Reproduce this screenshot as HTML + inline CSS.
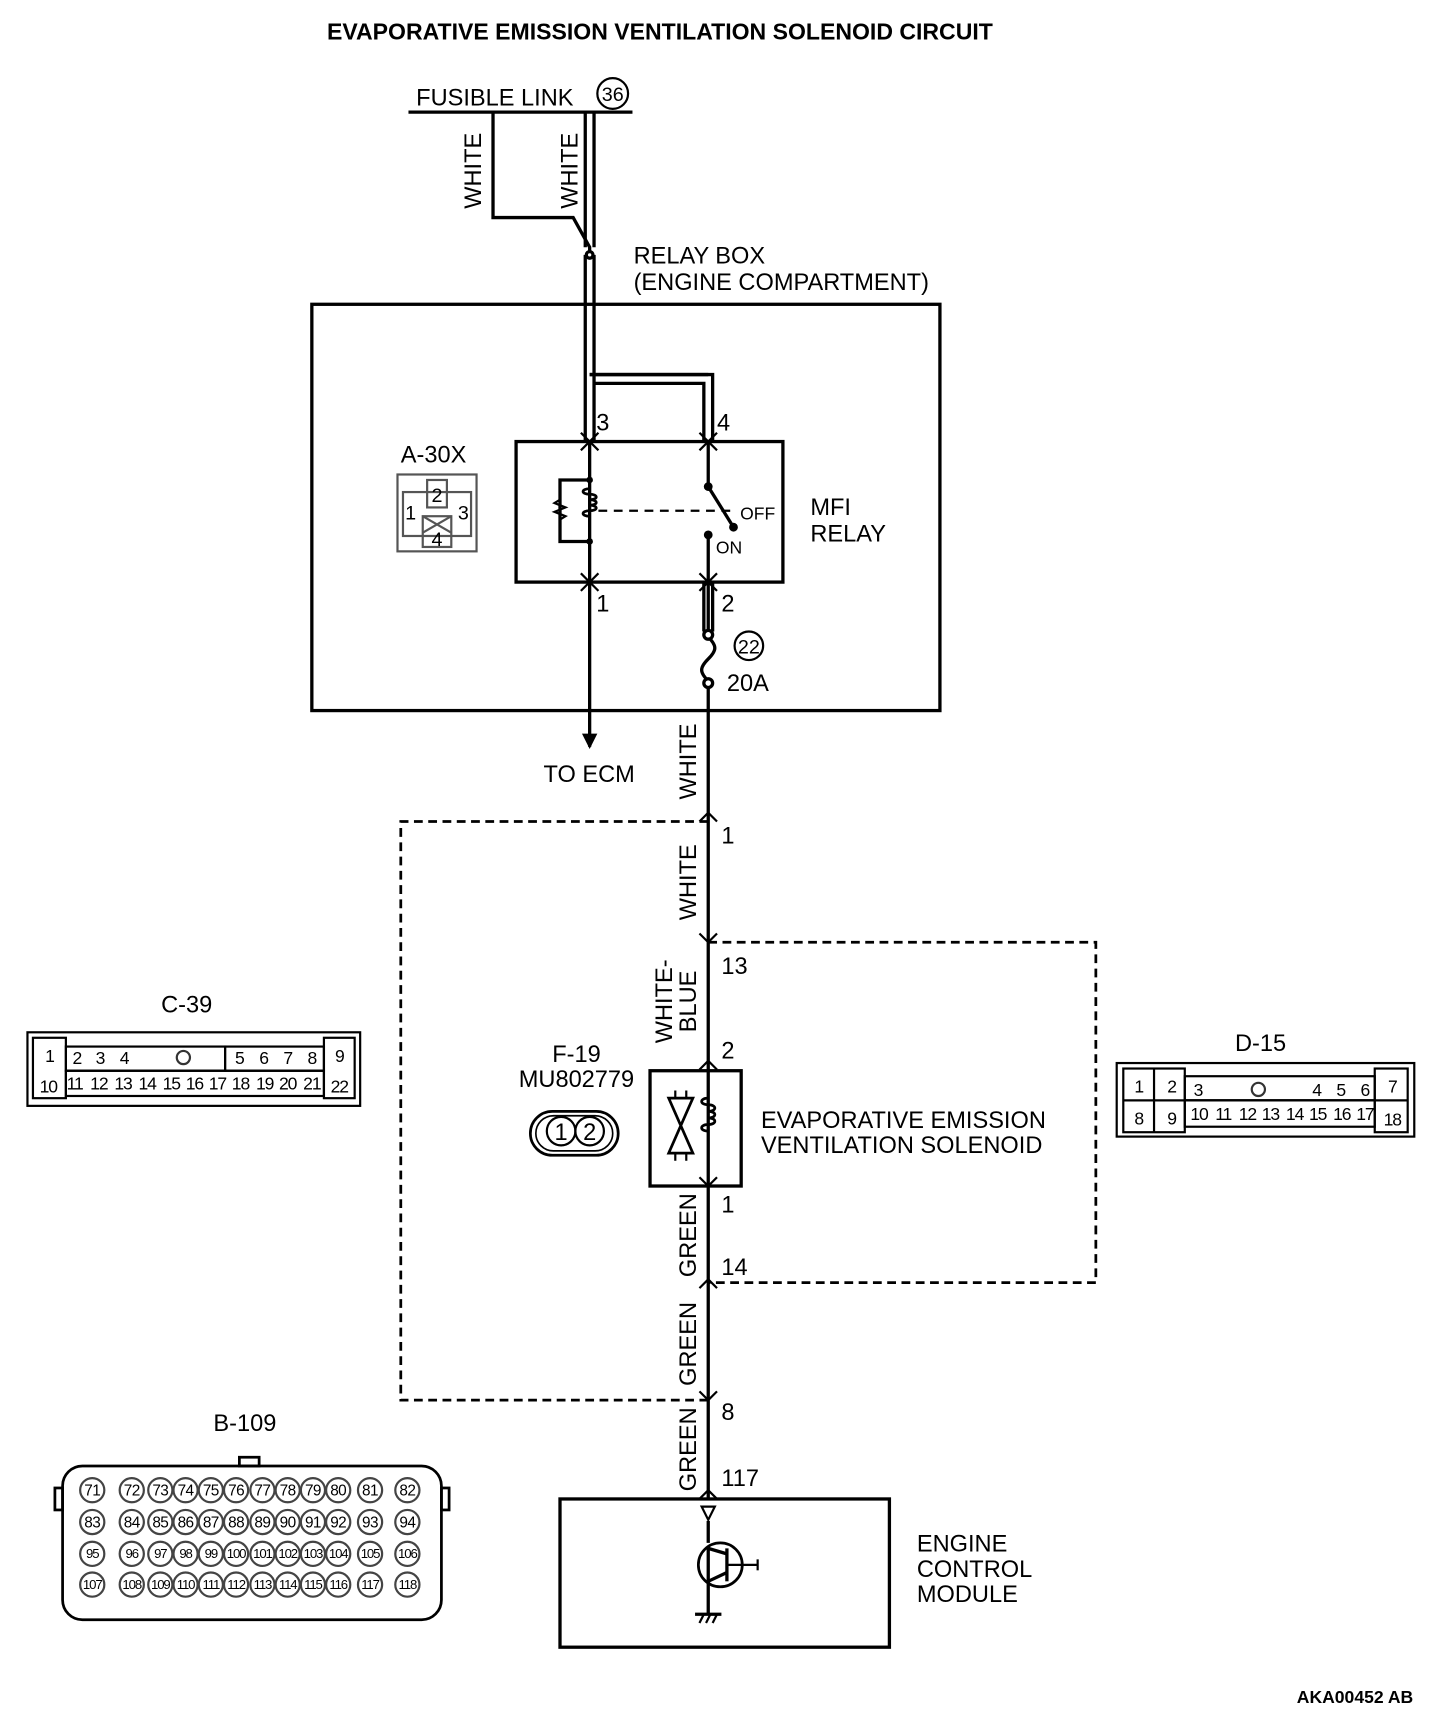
<!DOCTYPE html>
<html><head><meta charset="utf-8"><style>
html,body{margin:0;padding:0;background:#fff;}
svg{display:block;}
text{font-family:"Liberation Sans",sans-serif;fill:#000;}
</style></head><body>
<svg width="1456" height="1722" viewBox="0 0 1326 1568" xmlns="http://www.w3.org/2000/svg">
<g fill="none" stroke="#000" stroke-width="3">
<line x1="372" y1="102" x2="576" y2="102"/>
<polyline points="449,102 449,198 522,198 537,225 537,232"/>
<line x1="533" y1="102" x2="533" y2="225"/><line x1="541" y1="102" x2="541" y2="225"/>
<circle cx="558" cy="85" r="14" stroke-width="2"/>
<rect x="284" y="277" width="572" height="370"/>
<line x1="533" y1="232" x2="533" y2="402"/><line x1="541" y1="232" x2="541" y2="402"/>
<polyline points="537,341 645,341"/><polyline points="541,349 641,349 641,402"/><polyline points="537,341 649,341 649,402"/>
<circle cx="537" cy="232" r="3" fill="#fff"/>
<rect x="470" y="402" width="243" height="128"/>
<line x1="537" y1="402" x2="537" y2="680"/>
<polyline points="537,437 510,437 510,493 537,493"/>
<path d="M537,445 c-8,0 -8,5 0,5 c8,0 8,5 0,5 c8,0 8,5 0,5 c8,0 8,5 0,5 c-8,0 -8,5 0,5" stroke-width="2.5"/>
<polyline points="510,455 505,458 515,462 505,466 515,470 510,473" stroke-width="2"/>
<line x1="545" y1="465" x2="665" y2="465" stroke-dasharray="8,6" stroke-width="2"/>
<line x1="645" y1="402" x2="645" y2="443"/>
<line x1="645" y1="443" x2="668" y2="480"/>
<line x1="645" y1="487" x2="645" y2="575"/>
<line x1="641" y1="530" x2="641" y2="575"/><line x1="649" y1="530" x2="649" y2="575"/>
<path d="M645,580 c8,8 8,12 0,20 c-8,8 -8,12 0,20" />
<line x1="645" y1="625" x2="645" y2="1365"/>
<circle cx="645" cy="578" r="4" fill="#fff"/><circle cx="645" cy="622" r="4" fill="#fff"/>
<circle cx="682" cy="588" r="13" stroke-width="2"/>
<g stroke-width="2">
<polyline points="529,410 537,402 545,410"/><polyline points="637,410 645,402 653,410"/>
<polyline points="529,394 537,402 545,394"/><polyline points="637,394 645,402 653,394"/>
<polyline points="529,538 537,530 545,538"/><polyline points="637,538 645,530 653,538"/>
<polyline points="529,522 537,530 545,522"/><polyline points="637,522 645,530 653,522"/>
<polyline points="637,748 645,740 653,748"/>
<polyline points="637,850 645,858 653,850"/>
<polyline points="637,974 645,966 653,974"/>
<polyline points="637,1072 645,1080 653,1072"/>
<polyline points="637,1173 645,1165 653,1173"/>
<polyline points="637,1267 645,1275 653,1267"/>
<polyline points="637,1365 645,1357 653,1365"/>
</g>
<polyline points="645,748 365,748 365,1275 645,1275" stroke-dasharray="8,5" stroke-width="2.5"/>
<polyline points="645,858 998,858 998,1168 645,1168" stroke-dasharray="8,5" stroke-width="2.5"/>
<rect x="592" y="975" width="83" height="105"/>
<path d="M645,1000 c-8,0 -8,6 0,6 c8,0 8,6 0,6 c8,0 8,6 0,6 c8,0 8,6 0,6 c-8,0 -8,6 0,6" stroke-width="2.5"/>
<path d="M609,1000 L631,1000 L609,1050 L631,1050 Z" stroke-width="2.5"/>
<line x1="615" y1="993" x2="615" y2="1000" stroke-width="2"/><line x1="625" y1="993" x2="625" y2="1000" stroke-width="2"/>
<line x1="615" y1="1050" x2="615" y2="1057" stroke-width="2"/><line x1="625" y1="1050" x2="625" y2="1057" stroke-width="2"/>
<rect x="483" y="1012" width="80" height="40" rx="20" stroke-width="2.5"/>
<rect x="488" y="1016" width="70" height="32" rx="16" stroke-width="1.5"/>
<circle cx="511" cy="1030" r="13" stroke-width="2"/><circle cx="537" cy="1030" r="13" stroke-width="2"/>
<rect x="510" y="1365" width="300" height="135"/>
<line x1="645" y1="1385" x2="645" y2="1405"/>
<circle cx="656" cy="1425" r="20" stroke-width="2.5"/>
<line x1="645" y1="1408" x2="645" y2="1470"/>
<line x1="645" y1="1410" x2="662" y2="1415"/><line x1="662" y1="1410" x2="662" y2="1440"/>
<line x1="645" y1="1440" x2="662" y2="1432"/><line x1="662" y1="1425" x2="690" y2="1425" stroke-width="2"/>
<line x1="690" y1="1420" x2="690" y2="1430" stroke-width="2"/>
<line x1="633" y1="1470" x2="657" y2="1470"/>
<g stroke-width="2"><line x1="637" y1="1478" x2="641" y2="1470"/><line x1="643" y1="1478" x2="647" y2="1470"/><line x1="649" y1="1478" x2="653" y2="1470"/></g>
<g stroke-width="2">
<rect x="25" y="940" width="303" height="67"/>
<rect x="30" y="945" width="30" height="55"/><rect x="295" y="945" width="28" height="55"/>
<line x1="60" y1="975" x2="295" y2="975"/>
<rect x="60" y="953" width="145" height="22"/><rect x="205" y="953" width="90" height="22"/>
<rect x="60" y="975" width="235" height="23"/>
</g>
<g stroke-width="2">
<rect x="1017" y="968" width="271" height="67"/>
<rect x="1023" y="973" width="56" height="58"/><rect x="1252" y="973" width="30" height="58"/>
<line x1="1023" y1="1002" x2="1282" y2="1002"/><line x1="1051" y1="973" x2="1051" y2="1031"/>
<rect x="1079" y="980" width="173" height="22"/><rect x="1079" y="1002" width="173" height="24"/>
</g>
<g stroke-width="2.5">
<rect x="57" y="1335" width="345" height="140" rx="18"/>
<rect x="218" y="1327" width="18" height="8"/>
<rect x="50" y="1355" width="7" height="20"/><rect x="402" y="1355" width="7" height="20"/>
</g>
</g>
<g fill="#000">
<circle cx="537" cy="437" r="3"/><circle cx="537" cy="493" r="3"/>
<circle cx="645" cy="443" r="4"/><circle cx="668" cy="480" r="4"/><circle cx="645" cy="487" r="4"/>
<polygon points="530,668 544,668 537,682"/>
<polygon points="639,1372 651,1372 645,1384" fill="none" stroke="#000" stroke-width="2"/>
</g>
<g font-size="21.5">
<text x="601" y="36" text-anchor="middle" font-size="21" font-weight="bold" fill="#333">EVAPORATIVE EMISSION VENTILATION SOLENOID CIRCUIT</text>
<text x="379" y="96">FUSIBLE LINK</text>
<text x="558" y="92" text-anchor="middle" font-size="18">36</text>
<text x="577" y="240">RELAY BOX</text>
<text x="577" y="264">(ENGINE COMPARTMENT)</text>
<text x="365" y="421">A-30X</text>
<text x="543" y="392">3</text><text x="653" y="392">4</text>
<text x="543" y="557">1</text><text x="657" y="557">2</text>
<text x="682" y="595" text-anchor="middle" font-size="18">22</text>
<text x="662" y="629">20A</text>
<text x="674" y="473" font-size="16">OFF</text><text x="652" y="504" font-size="16">ON</text>
<text x="738" y="469">MFI</text><text x="738" y="493">RELAY</text>
<text x="495" y="712">TO ECM</text>
<text x="657" y="768">1</text><text x="657" y="887">13</text><text x="657" y="964">2</text>
<text x="657" y="1104">1</text><text x="657" y="1161">14</text><text x="657" y="1293">8</text><text x="657" y="1353">117</text>
<text x="525" y="967" text-anchor="middle">F-19</text>
<text x="525" y="990" text-anchor="middle">MU802779</text>
<text x="511" y="1038" text-anchor="middle">1</text><text x="537" y="1038" text-anchor="middle">2</text>
<text x="693" y="1027">EVAPORATIVE EMISSION</text>
<text x="693" y="1050">VENTILATION SOLENOID</text>
<text x="835" y="1413">ENGINE</text><text x="835" y="1436">CONTROL</text><text x="835" y="1459">MODULE</text>
<text x="170" y="922" text-anchor="middle">C-39</text>
<text x="1148" y="957" text-anchor="middle">D-15</text>
<text x="223" y="1303" text-anchor="middle">B-109</text>
<text x="1287" y="1551" text-anchor="end" font-size="16" font-weight="bold">AKA00452 AB</text>
<g transform="translate(438,190) rotate(-90)"><text>WHITE</text></g>
<g transform="translate(526,190) rotate(-90)"><text>WHITE</text></g>
<g transform="translate(634,728) rotate(-90)"><text>WHITE</text></g>
<g transform="translate(634,838) rotate(-90)"><text>WHITE</text></g>
<g transform="translate(612,950) rotate(-90)"><text>WHITE-</text></g>
<g transform="translate(634,940) rotate(-90)"><text>BLUE</text></g>
<g transform="translate(634,1163) rotate(-90)"><text>GREEN</text></g>
<g transform="translate(634,1262) rotate(-90)"><text>GREEN</text></g>
<g transform="translate(634,1358) rotate(-90)"><text>GREEN</text></g>
</g>
<g fill="none" stroke="#555" stroke-width="2">
<rect x="362" y="432" width="72" height="70"/>
<rect x="367" y="448" width="62" height="40"/>
<rect x="389" y="437" width="18" height="25"/>
<rect x="385" y="470" width="26" height="28"/>
<line x1="385" y1="470" x2="411" y2="485"/><line x1="411" y1="470" x2="385" y2="485"/>
</g>
<g font-size="18" fill="#333">
<text x="398" y="457" text-anchor="middle">2</text><text x="374" y="473" text-anchor="middle">1</text>
<text x="422" y="473" text-anchor="middle">3</text><text x="398" y="497" text-anchor="middle">4</text>
</g>
<g font-size="16" text-anchor="middle" fill="#333" letter-spacing="-1">
<text x="45" y="967">1</text><text x="70" y="969">2</text><text x="91" y="969">3</text><text x="113" y="969">4</text>
<text x="218" y="969">5</text><text x="240" y="969">6</text><text x="262" y="969">7</text><text x="284" y="969">8</text><text x="309" y="967">9</text>
<text x="44" y="995">10</text><text x="68" y="992">11</text><text x="90" y="992">12</text><text x="112" y="992">13</text><text x="134" y="992">14</text>
<text x="156" y="992">15</text><text x="177" y="992">16</text><text x="198" y="992">17</text><text x="219" y="992">18</text><text x="241" y="992">19</text>
<text x="262" y="992">20</text><text x="284" y="992">21</text><text x="309" y="995">22</text>
<text x="1037" y="995">1</text><text x="1067" y="995">2</text><text x="1091" y="998">3</text>
<text x="1199" y="998">4</text><text x="1221" y="998">5</text><text x="1243" y="998">6</text><text x="1268" y="995">7</text>
<text x="1037" y="1024">8</text><text x="1067" y="1024">9</text>
<text x="1092" y="1020">10</text><text x="1114" y="1020">11</text><text x="1136" y="1020">12</text><text x="1157" y="1020">13</text>
<text x="1179" y="1020">14</text><text x="1200" y="1020">15</text><text x="1222" y="1020">16</text><text x="1243" y="1020">17</text><text x="1268" y="1025">18</text>
</g>
<circle cx="167" cy="963" r="6" fill="none" stroke="#333" stroke-width="2"/>
<circle cx="1146" cy="992" r="6" fill="none" stroke="#333" stroke-width="2"/>
<g fill="none" stroke="#444" stroke-width="2">
<g id="r"><circle cx="84" cy="1357" r="11"/><circle cx="120" cy="1357" r="11"/><circle cx="146" cy="1357" r="11"/><circle cx="169" cy="1357" r="11"/><circle cx="192" cy="1357" r="11"/><circle cx="215" cy="1357" r="11"/><circle cx="239" cy="1357" r="11"/><circle cx="262" cy="1357" r="11"/><circle cx="285" cy="1357" r="11"/><circle cx="308" cy="1357" r="11"/><circle cx="337" cy="1357" r="11"/><circle cx="371" cy="1357" r="11"/></g>
<use href="#r" y="29"/><use href="#r" y="58"/><use href="#r" y="86"/>
</g>
<g font-size="14" text-anchor="middle" fill="#333" letter-spacing="-0.5">
<text x="84" y="1362">71</text><text x="120" y="1362">72</text><text x="146" y="1362">73</text><text x="169" y="1362">74</text><text x="192" y="1362">75</text><text x="215" y="1362">76</text><text x="239" y="1362">77</text><text x="262" y="1362">78</text><text x="285" y="1362">79</text><text x="308" y="1362">80</text><text x="337" y="1362">81</text><text x="371" y="1362">82</text>
<text x="84" y="1391">83</text><text x="120" y="1391">84</text><text x="146" y="1391">85</text><text x="169" y="1391">86</text><text x="192" y="1391">87</text><text x="215" y="1391">88</text><text x="239" y="1391">89</text><text x="262" y="1391">90</text><text x="285" y="1391">91</text><text x="308" y="1391">92</text><text x="337" y="1391">93</text><text x="371" y="1391">94</text>
<g font-size="12" letter-spacing="-1">
<text x="84" y="1419">95</text><text x="120" y="1419">96</text><text x="146" y="1419">97</text><text x="169" y="1419">98</text><text x="192" y="1419">99</text><text x="215" y="1419">100</text><text x="239" y="1419">101</text><text x="262" y="1419">102</text><text x="285" y="1419">103</text><text x="308" y="1419">104</text><text x="337" y="1419">105</text><text x="371" y="1419">106</text>
<text x="84" y="1447">107</text><text x="120" y="1447">108</text><text x="146" y="1447">109</text><text x="169" y="1447">110</text><text x="192" y="1447">111</text><text x="215" y="1447">112</text><text x="239" y="1447">113</text><text x="262" y="1447">114</text><text x="285" y="1447">115</text><text x="308" y="1447">116</text><text x="337" y="1447">117</text><text x="371" y="1447">118</text>
</g>
</g>
</svg>
</body></html>
